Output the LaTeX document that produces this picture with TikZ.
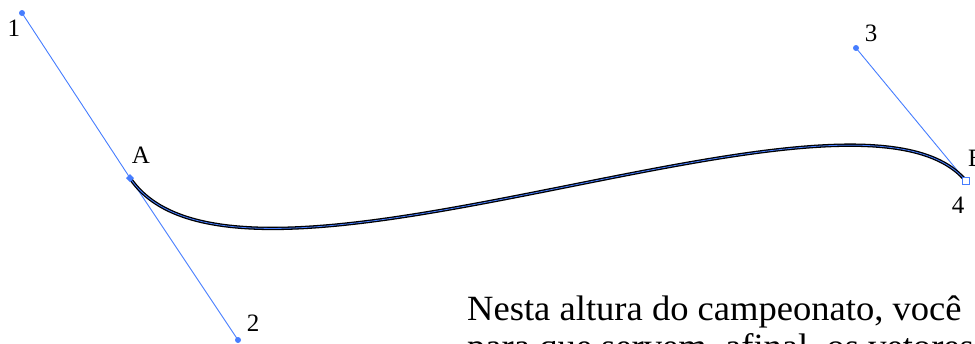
\documentclass[tikz,border=0pt]{standalone}
\usepackage{fontspec}
\setmainfont{Liberation Serif}
\newfontfamily\bodyfont[FakeStretch=1.03]{Liberation Serif}
\definecolor{hblue}{RGB}{70,125,255}
\begin{document}
\begin{tikzpicture}[x=1pt,y=-1pt,
  handle/.style={draw=hblue, line width=0.9pt},
  curveblack/.style={draw=black, line width=3.4pt},
  curveblue/.style={draw=hblue, line width=0.8pt},
  ptlabel/.style={font=\fontsize{25}{25}\selectfont, inner sep=0pt},
  bodytext/.style={font=\bodyfont\fontsize{35.5}{38}\selectfont, inner sep=0pt, anchor=base west}]
\useasboundingbox (0,0) rectangle (975,343);
\clip (0,0) rectangle (975,343);
\coordinate (P1) at (22,13);
\coordinate (A) at (130,178);
\coordinate (P2) at (238,340);
\coordinate (P3) at (856,48);
\coordinate (B) at (966,181);
\draw[handle] (P1) -- (A) -- (P2);
\draw[handle] (P3) -- (B);
\draw[curveblack] (A) .. controls (P2) and (P3) .. (B);
\draw[curveblue] (A) .. controls (P2) and (P3) .. (B);
\fill[hblue] (P1) circle (3);
\fill[hblue] (P2) circle (3);
\fill[hblue] (P3) circle (3);
\fill[hblue] ([xshift=-4]A) -- ([yshift=-4]A) -- ([xshift=4]A) -- ([yshift=4]A) -- cycle;
\draw[hblue, fill=white, line width=0.9pt] ([shift={(-3.5,-3.5)}]B) rectangle ([shift={(3.5,3.5)}]B);
\node[ptlabel] (l1) at (14,28) {1};
\node[ptlabel] (lA) at (141,155) {A};
\node[ptlabel] (l2) at (253,323) {2};
\node[ptlabel] (l3) at (871,33) {3};
\node[ptlabel] (l4) at (958,205) {4};
\node[ptlabel, anchor=west] (lB) at (968,158) {B};
\node[bodytext] (t1) at (467,320) {Nesta altura do campeonato, você};
\node[bodytext] (t2) at (467,358) {para que servem, afinal, os vetores p};
\end{tikzpicture}
\end{document}
